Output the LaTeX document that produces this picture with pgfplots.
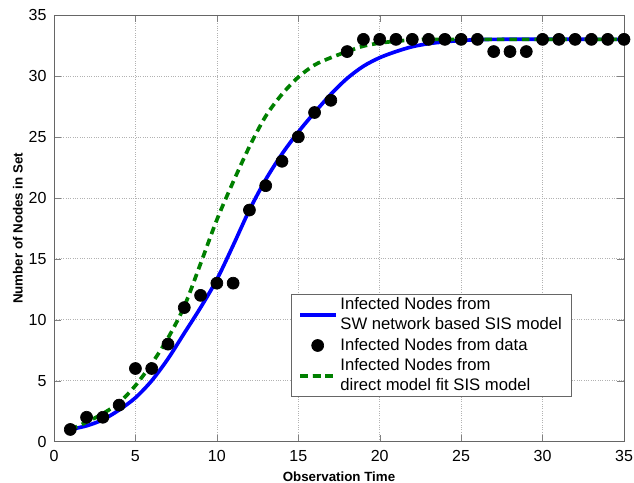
\documentclass[border=0pt]{standalone}
\usepackage{pgfplots}
\pgfplotsset{compat=1.18}
\usepackage{fontspec}
\setmainfont{Liberation Sans}
\definecolor{dgreen}{rgb}{0,0.5,0}
\begin{document}
\begin{tikzpicture}
\begin{axis}[
  scale only axis,
  width=342pt, height=256pt,
  xmin=0, xmax=35, ymin=0, ymax=35,
  xtick={0,5,...,35}, ytick={0,5,...,35},
  tick align=inside,
  tick style={gray, major tick length=4pt},
  axis line style={gray!80!black},
  grid=major,
  grid style={densely dotted, gray!60},
  ticklabel style={font=\fontsize{9.6}{11}\selectfont},
  xticklabel style={yshift=-1.5pt},
  yticklabel style={xshift=-1pt},
  /pgf/number format/assume math mode=true,
  xlabel={\bfseries Observation Time},
  ylabel={\bfseries Number of Nodes in Set},
  label style={font=\fontsize{8}{9}\selectfont},
  xlabel style={yshift=0.5pt},
  ylabel style={yshift=-3.4pt},
  legend style={at={(0.909,0.105)}, anchor=south east, draw=gray!80!black,
    font=\fontsize{10}{12}\selectfont, cells={align=left}, row sep=-0.5pt,
    inner xsep=4pt, inner ysep=0pt},
  legend cell align=left,
  legend image code/.code={\draw[mark repeat=2,mark phase=2,#1] plot coordinates {(0cm,0cm) (0.37cm,0cm) (0.74cm,0cm)};},
]
\coordinate (bl) at (rel axis cs:0,0);
\coordinate (tr) at (rel axis cs:1,1);
\addplot[blue, line width=2.2pt, smooth] coordinates {
(1,1.0)(2,1.3)(3,1.8)(4,2.6)(5,3.6)(6,5.0)(7,6.8)(8,8.9)(9,11.0)(10,13.3)
(11,16.1)(12,19.0)(13,21.5)(14,23.6)(15,25.4)(16,27.0)(17,28.5)(18,29.8)
(19,30.8)(20,31.5)(21,32.0)(22,32.4)(23,32.65)(24,32.8)(25,32.9)(27,33.0)(35,33.0)};
\addlegendentry{Infected Nodes from\\SW network based SIS model\hspace{5pt}}
\addplot[only marks, mark=*, mark size=3.6pt, black] coordinates {
(1,1)(2,2)(3,2)(4,3)(5,6)(6,6)(7,8)(8,11)(9,12)(10,13)(11,13)(12,19)(13,21)
(14,23)(15,25)(16,27)(17,28)(18,32)(19,33)(20,33)(21,33)(22,33)(23,33)(24,33)
(25,33)(26,33)(27,32)(28,32)(29,32)(30,33)(31,33)(32,33)(33,33)(34,33)(35,33)};
\addlegendentry{Infected Nodes from data}
\addplot[dgreen, line width=2.2pt, dash pattern=on 4.5pt off 3pt, smooth] coordinates {
(1,1.0)(2,1.6)(3,2.3)(4,3.2)(5,4.6)(6,6.4)(7,8.5)(8,11.1)(9,14.6)(10,18.2)
(11,21.3)(12,24.2)(13,26.7)(14,28.5)(15,29.9)(16,30.9)(17,31.5)(18,32.0)
(19,32.45)(20,32.7)(21,32.85)(22,32.95)(23,33.0)(25,33.0)(35,33.0)};
\addlegendentry{Infected Nodes from\\direct model fit SIS model}
\end{axis}
\pgfresetboundingbox
\useasboundingbox ([shift={(-32.4pt,-24.8pt)}]bl) rectangle ([shift={(6pt,9pt)}]tr);
\end{tikzpicture}
\end{document}
